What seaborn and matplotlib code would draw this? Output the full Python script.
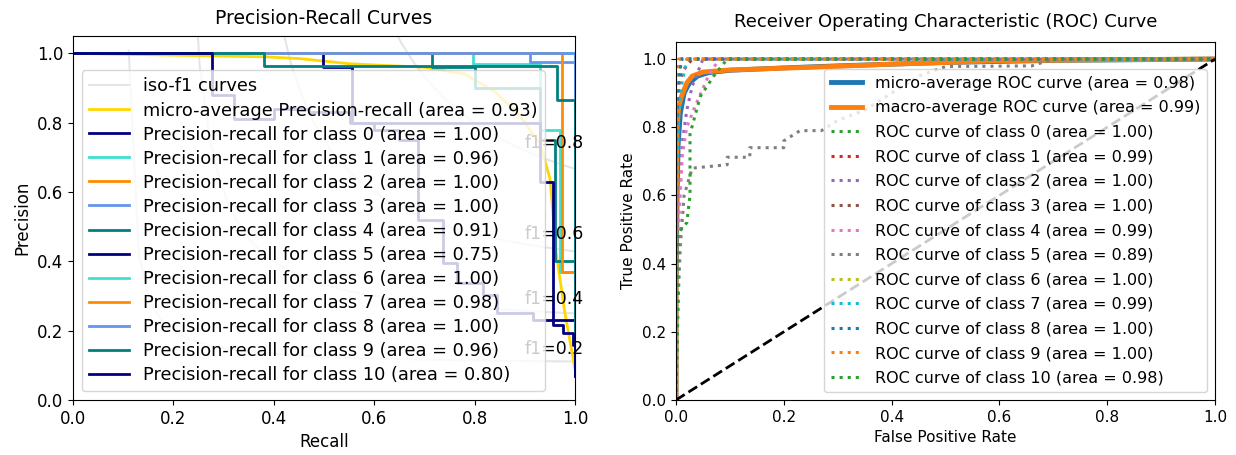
import numpy as np
import matplotlib
matplotlib.use("Agg")
import matplotlib.pyplot as plt
import seaborn as sns

# ---- datos: curvas precision-recall ----
f1_levels = [0.2, 0.4, 0.6, 0.8]
pr_colors = ["navy", "turquoise", "darkorange", "cornflowerblue", "teal"]

micro_recall = [0, 0.38, 0.45, 0.55, 0.62, 0.70, 0.78, 0.84, 0.89, 0.93, 0.95, 0.955, 0.96, 0.97, 0.98, 0.99, 1.0]
micro_precision = [1.0, 0.99, 0.985, 0.97, 0.965, 0.96, 0.94, 0.89, 0.82, 0.74, 0.64, 0.56, 0.45, 0.35, 0.25, 0.17, 0.09]
micro_pr_area = 0.93

pr_recall = [
    [0, 1.0, 1.0],
    [0, 0.797, 0.93, 0.97, 1.0],
    [0, 1.0, 1.0],
    [0, 0.91, 1.0, 1.0],
    [0, 0.715, 0.80, 0.93, 0.96, 1.0],
    [0, 0.498, 0.556, 0.93, 0.956, 1.0, 1.0],
    [0, 1.0, 1.0],
    [0, 0.974, 1.0, 1.0],
    [0, 1.0, 1.0],
    [0, 0.381, 0.964, 1.0, 1.0],
    [0, 0.277, 0.32, 0.40, 0.47, 0.552, 0.60, 0.65, 0.687, 0.737, 0.765, 0.817, 0.845, 0.916, 0.956, 0.976, 0.996, 1.0],
]
pr_precision = [
    [1.0, 1.0, 0.09],
    [1.0, 0.97, 0.78, 0.37, 0.09],
    [1.0, 1.0, 0.09],
    [1.0, 0.975, 0.975, 0.09],
    [1.0, 0.96, 0.90, 0.75, 0.40, 0.09],
    [1.0, 0.96, 0.80, 0.63, 0.23, 0.23, 0.07],
    [1.0, 1.0, 0.09],
    [1.0, 0.37, 0.37, 0.09],
    [1.0, 1.0, 0.09],
    [1.0, 0.963, 0.865, 0.865, 0.09],
    [1.0, 0.88, 0.81, 0.84, 0.83, 0.80, 0.78, 0.75, 0.52, 0.395, 0.337, 0.303, 0.251, 0.231, 0.216, 0.193, 0.159, 0.07],
]
pr_area = [1.00, 0.96, 1.00, 1.00, 0.91, 0.75, 1.00, 0.98, 1.00, 0.96, 0.80]

# ---- datos: curvas ROC ----
micro_fpr = [0, 0, 0.002, 0.004, 0.008, 0.015, 0.025, 0.04, 0.06, 0.1, 0.2, 0.3, 0.5, 0.7, 1.0]
micro_tpr = [0, 0.3, 0.6, 0.75, 0.84, 0.9, 0.93, 0.95, 0.96, 0.967, 0.974, 0.98, 0.99, 0.996, 1.0]
macro_fpr = [0, 0, 0.002, 0.005, 0.01, 0.02, 0.03, 0.05, 0.1, 0.27, 0.4, 0.5, 0.6, 0.8, 1.0]
macro_tpr = [0, 0.5, 0.8, 0.86, 0.89, 0.93, 0.95, 0.962, 0.968, 0.977, 0.985, 0.99, 0.995, 0.998, 1.0]
micro_roc_area = 0.98
macro_roc_area = 0.99

roc_fpr = [
    [0, 0, 0.005, 0.01, 1],
    [0, 0.001, 0.003, 0.006, 0.015, 0.03, 1],
    [0, 0.002, 0.006, 0.012, 0.02, 0.03, 0.05, 1],
    [0, 0, 0.004, 0.01, 1],
    [0, 0.002, 0.006, 0.012, 0.02, 0.035, 0.06, 0.08, 1],
    [0, 0.003, 0.008, 0.015, 0.03, 0.095, 0.095, 0.137, 0.137, 0.2, 0.2, 0.23, 0.27, 0.3, 0.35, 0.4, 0.45, 0.5, 0.66, 0.7, 1],
    [0, 0, 0.003, 0.008, 1],
    [0, 0.001, 0.004, 0.01, 0.02, 1],
    [0, 0, 0.003, 0.01, 1],
    [0, 0, 0.005, 1],
    [0, 0.004, 0.004, 0.02, 0.026, 0.026, 0.045, 0.07, 0.095, 1],
]
roc_tpr = [
    [0, 0.9, 0.97, 1.0, 1.0],
    [0, 0.7, 0.88, 0.93, 0.97, 1.0, 1.0],
    [0, 0.45, 0.6, 0.76, 0.85, 0.92, 1.0, 1.0],
    [0, 0.85, 0.95, 1.0, 1.0],
    [0, 0.35, 0.55, 0.72, 0.8, 0.86, 0.95, 1.0, 1.0],
    [0, 0.25, 0.45, 0.6, 0.68, 0.69, 0.712, 0.712, 0.74, 0.74, 0.76, 0.79, 0.79, 0.82, 0.85, 0.9, 0.95, 0.978, 0.98, 1.0, 1.0],
    [0, 0.8, 0.93, 1.0, 1.0],
    [0, 0.6, 0.82, 0.92, 1.0, 1.0],
    [0, 0.7, 0.9, 1.0, 1.0],
    [0, 0.95, 1.0, 1.0],
    [0, 0.3, 0.49, 0.52, 0.6, 0.78, 0.89, 0.95, 1.0, 1.0],
]
roc_area = [1.00, 0.99, 1.00, 1.00, 0.99, 0.89, 1.00, 0.99, 1.00, 1.00, 0.98]

fig = plt.figure(figsize=(12.36, 4.55), dpi=100)
ax1 = fig.add_axes([73 / 1236, 55 / 455, 502 / 1236, 364 / 455])
ax2 = fig.add_axes([676 / 1236, 55 / 455, 539 / 1236, 358 / 455])

# ---- Precision-Recall ----
handles = []
for k, f in enumerate(f1_levels):
    x = np.linspace(0.01, 1)
    y = f * x / (2 * x - f)
    sns.lineplot(x=x[y >= 0], y=y[y >= 0], color="gray", alpha=0.2,
                 estimator=None, sort=False, ax=ax1)
    if k == 0:
        handles.append(ax1.lines[-1])
    ax1.annotate("f1={0:0.1f}".format(f), xy=(0.9, y[45] + 0.02), fontsize=12.5)

sns.lineplot(x=micro_recall, y=micro_precision, color="gold", lw=2,
             estimator=None, sort=False, ax=ax1)
handles.append(ax1.lines[-1])
labels = ["iso-f1 curves",
          "micro-average Precision-recall (area = {0:0.2f})".format(micro_pr_area)]

for i in range(len(pr_recall)):
    sns.lineplot(x=pr_recall[i], y=pr_precision[i], color=pr_colors[i % 5], lw=2,
                 drawstyle="steps-post", estimator=None, sort=False, ax=ax1)
    handles.append(ax1.lines[-1])
    labels.append("Precision-recall for class {0} (area = {1:0.2f})".format(i, pr_area[i]))

ax1.set_xlim(0.0, 1.0)
ax1.set_ylim(0.0, 1.05)
ax1.tick_params(labelsize=12)
ax1.set_xlabel("Recall", fontsize=12)
ax1.set_ylabel("Precision", fontsize=12)
ax1.set_title("Precision-Recall Curves", fontsize=13.5, pad=9)
ax1.legend(handles, labels, loc="lower left", fontsize=12.8, handlelength=2.25,
           labelspacing=0.34)

# ---- ROC ----
sns.lineplot(x=micro_fpr, y=micro_tpr, color="tab:blue", lw=3.5, estimator=None, sort=False,
             label="micro-average ROC curve (area = {0:0.2f})".format(micro_roc_area), ax=ax2)
sns.lineplot(x=macro_fpr, y=macro_tpr, color="tab:orange", lw=3.5, estimator=None, sort=False,
             label="macro-average ROC curve (area = {0:0.2f})".format(macro_roc_area), ax=ax2)
cycle = plt.rcParams["axes.prop_cycle"].by_key()["color"]
for i in range(len(roc_fpr)):
    sns.lineplot(x=roc_fpr[i], y=roc_tpr[i], color=cycle[(i + 2) % 10], lw=2.2, linestyle=":",
                 estimator=None, sort=False,
                 label="ROC curve of class {0} (area = {1:0.2f})".format(i, roc_area[i]), ax=ax2)
sns.lineplot(x=[0, 1], y=[0, 1], color="k", linestyle="--", lw=2, estimator=None, sort=False, ax=ax2)

ax2.set_xlim(0.0, 1.0)
ax2.set_ylim(0.0, 1.05)
ax2.tick_params(labelsize=11)
ax2.set_xlabel("False Positive Rate", fontsize=11)
ax2.set_ylabel("True Positive Rate", fontsize=11)
ax2.set_title("Receiver Operating Characteristic (ROC) Curve", fontsize=13, pad=10.5)
ax2.legend(loc="lower right", fontsize=11.5, labelspacing=0.6)

fig.savefig("out.png", dpi=100)
